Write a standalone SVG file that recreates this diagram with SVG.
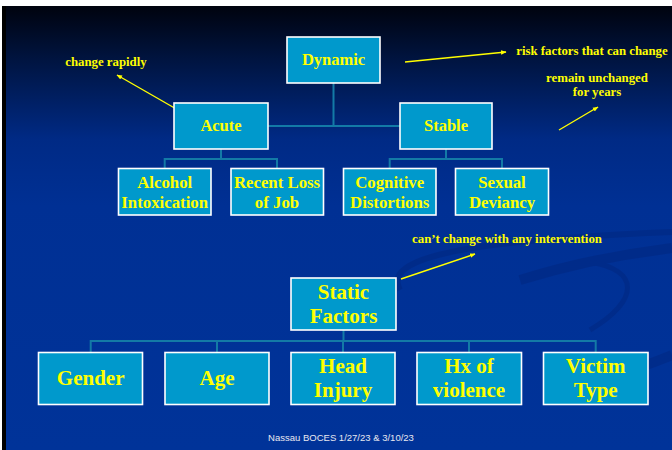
<svg xmlns="http://www.w3.org/2000/svg" width="672" height="450" viewBox="0 0 672 450">
<defs>
<linearGradient id="bg" x1="0" y1="6" x2="0" y2="450" gradientUnits="userSpaceOnUse">
<stop offset="0" stop-color="#00030e"/>
<stop offset="0.12" stop-color="#001440"/>
<stop offset="0.3" stop-color="#002a85"/>
<stop offset="0.45" stop-color="#003094"/>
<stop offset="1" stop-color="#003399"/>
</linearGradient>
<marker id="ah" viewBox="0 0 10 10" refX="9" refY="5" markerWidth="4" markerHeight="4" orient="auto">
<path d="M0,1 L10,5 L0,9 z" fill="#ffff00"/>
</marker>
<style>
.box{fill:#0099cc;stroke:#ffffff;stroke-width:1.6}
.conn{fill:none;stroke:#137aa6;stroke-width:2}
.t{font-family:"Liberation Serif","Times New Roman",serif;font-weight:bold;fill:#ffff00;text-anchor:middle}
.s{font-size:16.5px}
.m{font-size:16.8px}
.l{font-size:21px}
.a{font-size:12.8px}
.note{stroke:#ffff00;stroke-width:1.4;fill:none;marker-end:url(#ah)}
</style>
</defs>
<rect width="672" height="450" fill="#ffffff"/>
<rect x="2" y="6" width="670" height="444" fill="#000000"/>
<rect x="6" y="6" width="666" height="444" fill="url(#bg)"/>
<g opacity="0.3" fill="none" stroke="#002070">
<path d="M400,290 C380,255 480,240 672,232" stroke-width="6"/>
<path d="M520,280 C600,255 660,250 672,248" stroke-width="10"/>
<path d="M590,330 C640,300 640,270 590,262" stroke-width="5"/>
<path d="M600,380 C640,368 660,360 672,355" stroke-width="10"/>
</g>
<g id="connectors">
<path class="conn" d="M333.5,83 V126 M268,126 H400"/>
<path class="conn" d="M221,149 V159 M164.7,168 V159 H277 V168"/>
<path class="conn" d="M446,149 V159 M389.7,168 V159 H502 V168"/>
<path class="conn" d="M343.5,330 V341 M90.7,352 V341 H595.7 V352 M217,341 V352 M343,341 V352 M469,341 V352"/>
</g>
<g id="annotations">
<line class="note" x1="178" y1="110" x2="117" y2="75"/>
<line class="note" x1="405" y1="62" x2="506" y2="52"/>
<line class="note" x1="559" y1="130" x2="598" y2="107"/>
<line class="note" x1="401" y1="279" x2="475" y2="254"/>
<text class="t a" x="106" y="66">change rapidly</text>
<text class="t a" x="592" y="55">risk factors that can change</text>
<text class="t a" x="597" y="82">remain unchanged</text>
<text class="t a" x="597" y="96">for years</text>
<text class="t a" x="507" y="243">can’t change with any intervention</text>
</g>
<g id="dynamic"><rect class="box" x="287" y="37" width="93" height="46"/><text class="t s" x="333.5" y="65">Dynamic</text></g>
<g id="acute"><rect class="box" x="174" y="103" width="94" height="46"/><text class="t s" x="221" y="131">Acute</text></g>
<g id="stable"><rect class="box" x="400" y="103" width="92" height="46"/><text class="t s" x="446" y="131">Stable</text></g>
<g id="alcohol"><rect class="box" x="118.5" y="168.5" width="92.5" height="46.5"/><text class="t m" x="164.7" y="188">Alcohol</text><text class="t m" x="164.7" y="208">Intoxication</text></g>
<g id="recent-loss"><rect class="box" x="231" y="168.5" width="92.5" height="46.5"/><text class="t m" x="277" y="188">Recent Loss</text><text class="t m" x="277" y="208">of  Job</text></g>
<g id="cognitive"><rect class="box" x="343.5" y="168.5" width="92.5" height="46.5"/><text class="t m" x="389.7" y="188">Cognitive</text><text class="t m" x="389.7" y="208">Distortions</text></g>
<g id="sexual"><rect class="box" x="455.5" y="168.5" width="93" height="46.5"/><text class="t m" x="502" y="188">Sexual</text><text class="t m" x="502" y="208">Deviancy</text></g>
<g id="static"><rect class="box" x="291" y="278" width="105" height="52"/><text class="t l" x="343.5" y="299">Static</text><text class="t l" x="343.5" y="322.5">Factors</text></g>
<g id="gender"><rect class="box" x="38.5" y="352.5" width="104" height="52"/><text class="t l" x="90.7" y="385">Gender</text></g>
<g id="age"><rect class="box" x="165" y="352.5" width="104" height="52"/><text class="t l" x="217" y="385">Age</text></g>
<g id="head-injury"><rect class="box" x="291" y="352.5" width="104" height="52"/><text class="t l" x="343" y="373">Head</text><text class="t l" x="343" y="397">Injury</text></g>
<g id="hx-violence"><rect class="box" x="417" y="352.5" width="104.5" height="52"/><text class="t l" x="469" y="373">Hx of</text><text class="t l" x="469" y="397">violence</text></g>
<g id="victim-type"><rect class="box" x="543.5" y="352.5" width="104.5" height="52"/><text class="t l" x="595.7" y="373">Victim</text><text class="t l" x="595.7" y="397">Type</text></g>
<text x="341" y="441" font-family="Liberation Sans, Arial, sans-serif" font-size="9.5" fill="#e8e8f0" text-anchor="middle">Nassau BOCES 1/27/23 &amp; 3/10/23</text>
</svg>
